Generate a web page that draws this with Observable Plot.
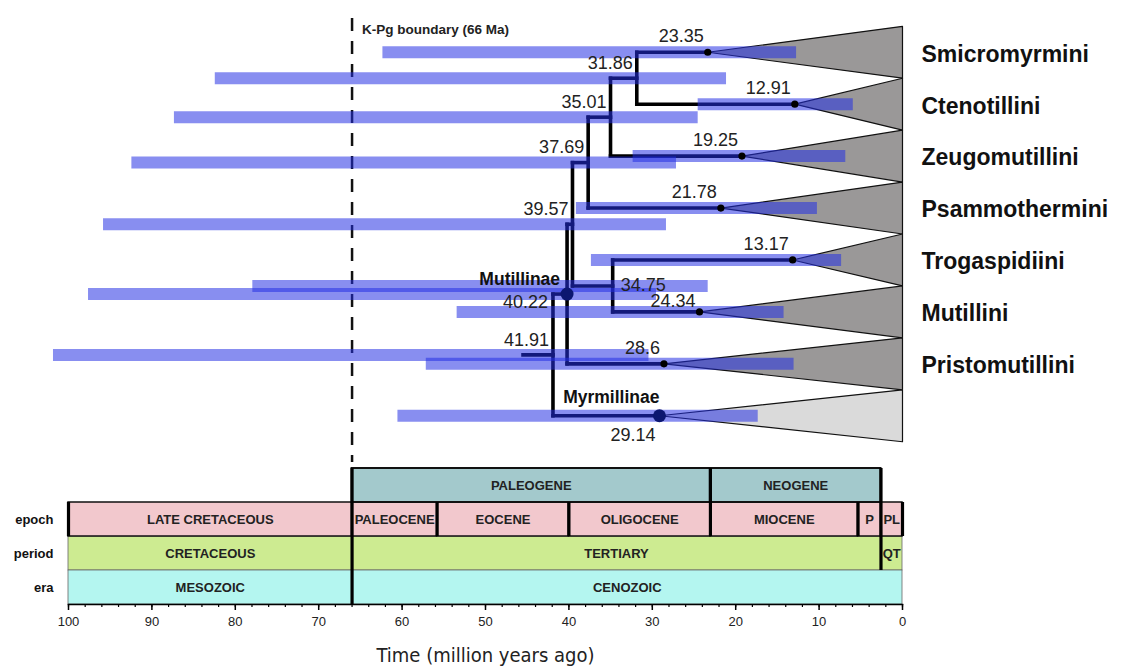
<!DOCTYPE html>
<html><head><meta charset="utf-8">
<script src="https://cdn.jsdelivr.net/npm/d3@7"></script>
<script src="https://cdn.jsdelivr.net/npm/@observablehq/plot@0.6"></script>
<style>
body{margin:0;background:#fff;}
#chart svg{display:block;}
</style></head><body><div id="chart"></div>
<script>
// ---------- tree data ----------
const tribes = ["Smicromyrmini","Ctenotillini","Zeugomutillini","Psammothermini","Trogaspidiini","Mutillini","Pristomutillini","Myrmillinae"];
const tipAges = [23.35, 12.91, 19.25, 21.78, 13.17, 24.34, 28.6, 29.14];
const tipHpdOld = [62.3, 24.5, 32.3, 39.1, 37.3, 53.4, 57.1, 60.5];
const tipHpdYoung = [12.7, 5.9, 6.8, 10.2, 7.3, 14.2, 13.0, 17.3];
const tribeLabels = ["Smicromyrmini","Ctenotillini","Zeugomutillini","Psammothermini","Trogaspidiini","Mutillini","Pristomutillini"];

const nodeIds = ["n3186","n3501","n3769","n3475","n3957","n4022","n4191"];
const nodeAges = [31.86, 35.01, 37.69, 34.75, 39.57, 40.22, 41.91];
const nodeChildren = [["Smicromyrmini","Ctenotillini"],["n3186","Zeugomutillini"],["n3501","Psammothermini"],["Trogaspidiini","Mutillini"],["n3769","n3475"],["n3957","Pristomutillini"],["n4022","Myrmillinae"]];
const nodeHpdOld = [82.4, 87.3, 92.4, 77.9, 95.8, 97.6, 101.8];
const nodeHpdYoung = [21.1, 24.5, 27.1, 23.3, 28.3, 29.5, 30.4];
const rootStemAge = 45.5;
const subfamilies = ["Mutillinae","Myrmillinae"];
const subfamilyNodes = ["n4022","Myrmillinae"];
const kpgAge = 66;

// ---------- geologic time scale data ----------
const scaleRows = ["system","epoch","period","era"];
const unitNames = ["PALEOGENE","NEOGENE","LATE CRETACEOUS","PALEOCENE","EOCENE","OLIGOCENE","MIOCENE","P","PL","CRETACEOUS","TERTIARY","QT","MESOZOIC","CENOZOIC"];
const unitRows  = ["system","system","epoch","epoch","epoch","epoch","epoch","epoch","epoch","period","period","period","era","era"];
const unitStart = [66, 23.03, 100, 66, 55.8, 40, 23.03, 5.33, 2.58, 100, 66, 2.58, 100, 66];
const unitEnd   = [23.03, 2.58, 66, 55.8, 40, 23.03, 5.33, 2.58, 0, 66, 2.58, 0, 66, 0];
const boundaryAges = [100, 66, 55.8, 40, 23.03, 5.33, 2.58, 0, 66, 66, 66, 23.03, 2.58, 2.58];
const boundaryRows = ["epoch","epoch","epoch","epoch","epoch","epoch","epoch","epoch","system","period","era","system","system","period"];
const majorTicks = d3.range(0, 101, 10);
const minorTicks = d3.range(0, 101, 2);

// ---------- derived tables ----------
const rowOf = new Map(tribes.map((t, i) => [t, i]));
const ageOf = new Map(tribes.map((t, i) => [t, tipAges[i]]));
nodeIds.forEach((id, i) => {
  const [a, b] = nodeChildren[i];
  rowOf.set(id, (rowOf.get(a) + rowOf.get(b)) / 2);
  ageOf.set(id, nodeAges[i]);
});
const branches = [];
nodeIds.forEach((id, i) => {
  const t = nodeAges[i];
  const [a, b] = nodeChildren[i];
  branches.push({x1: t, x2: t, y1: rowOf.get(a), y2: rowOf.get(b)});
  for (const c of [a, b]) branches.push({x1: t, x2: ageOf.get(c), y1: rowOf.get(c), y2: rowOf.get(c)});
});
const rootId = nodeIds[nodeIds.length - 1];
branches.push({x1: rootStemAge, x2: ageOf.get(rootId), y1: rowOf.get(rootId), y2: rowOf.get(rootId)});

const tips = tribes.map((t, i) => ({id: t, age: tipAges[i], row: i, old: tipHpdOld[i], young: tipHpdYoung[i]}));
const nodes = nodeIds.map((id, i) => ({id, age: nodeAges[i], row: rowOf.get(id), old: nodeHpdOld[i], young: nodeHpdYoung[i]}));
const hpd = [...tips, ...nodes];

const triPts = [];
tips.forEach(d => {
  triPts.push({z: d.id, x: d.age, y: d.row}, {z: d.id, x: 0, y: d.row - 0.5}, {z: d.id, x: 0, y: d.row + 0.5}, {z: d.id, x: d.age, y: d.row});
});
const subs = subfamilies.map((s, i) => ({name: s, age: ageOf.get(subfamilyNodes[i]), row: rowOf.get(subfamilyNodes[i])}));
const units = unitNames.map((n, i) => ({name: n, row: unitRows[i], start: unitStart[i], end: unitEnd[i]}));
const bounds = boundaryAges.map((a, i) => ({age: a, row: boundaryRows[i]}));

const FONT = "'Liberation Sans', Arial, Helvetica, sans-serif";
const barColor = "rgb(36,46,227)";
const W = 1122, ML = 68, MR = 220;
const upperTips = ["Smicromyrmini","Ctenotillini","Zeugomutillini","Psammothermini","Trogaspidiini","Pristomutillini"];

// ---------- tree plot ----------
const tree = Plot.plot({
  width: W, height: 462,
  marginLeft: ML, marginRight: MR, marginTop: 18, marginBottom: 0,
  style: {fontFamily: FONT, background: "#fff", color: "#111"},
  x: {domain: [100, 0], axis: null},
  y: {domain: [-0.65, 7.9], reverse: true, axis: null},
  marks: [
    Plot.ruleX([kpgAge], {stroke: "#111", strokeWidth: 2.5, strokeDasharray: "13,10"}),
    Plot.text(["K-Pg boundary (66 Ma)"], {x: () => kpgAge, frameAnchor: "top", dx: 10, dy: 6, textAnchor: "start", fontSize: 13.5, fontWeight: "bold", fill: "#222"}),
    Plot.line(triPts.filter(d => d.z !== "Myrmillinae"), {x: "x", y: "y", z: "z", fill: "#9a9898", stroke: "#111", strokeWidth: 1.2, curve: "linear"}),
    Plot.line(triPts.filter(d => d.z === "Myrmillinae"), {x: "x", y: "y", z: "z", fill: "#dadada", stroke: "#111", strokeWidth: 1.2, curve: "linear"}),
    Plot.link(branches, {x1: "x1", y1: "y1", x2: "x2", y2: "y2", stroke: "#000", strokeWidth: 3.6, strokeLinecap: "square"}),
    Plot.ruleY(hpd, {y: "row", x1: "old", x2: "young", stroke: barColor, strokeOpacity: 0.54, strokeWidth: 12}),
    Plot.dot(tips.filter(d => d.id !== "Myrmillinae"), {x: "age", y: "row", r: 3.6, fill: "#000", stroke: "none"}),
    Plot.dot(subs, {x: "age", y: "row", r: 6.5, fill: "#0c1770", stroke: "none"}),
    // tip age labels
    Plot.text(tips.filter(d => upperTips.includes(d.id)), {x: "age", y: "row", text: d => String(d.age), textAnchor: "end", dx: -4, dy: -16, fontSize: 18, fill: "#222"}),
    Plot.text(tips.filter(d => d.id === "Mutillini"), {x: "age", y: "row", text: d => String(d.age), textAnchor: "end", dx: -4, dy: -11, fontSize: 18, fill: "#222"}),
    Plot.text(tips.filter(d => d.id === "Myrmillinae"), {x: "age", y: "row", text: d => String(d.age), textAnchor: "end", dx: -4, dy: 19, fontSize: 18, fill: "#222"}),
    // internal node labels
    Plot.text(nodes.filter(d => ["n3186","n3501","n3769","n3957"].includes(d.id)), {x: "age", y: "row", text: d => String(d.age), textAnchor: "end", dx: -4, dy: -15, fontSize: 18, fill: "#222"}),
    Plot.text(nodes.filter(d => d.id === "n3475"), {x: "age", y: "row", text: d => String(d.age), textAnchor: "start", dx: 8, dy: -1, fontSize: 18, fill: "#222"}),
    Plot.text(nodes.filter(d => d.id === "n4022"), {x: "age", y: "row", text: d => String(d.age), textAnchor: "end", dx: -19, dy: 8, fontSize: 18, fill: "#222"}),
    Plot.text(nodes.filter(d => d.id === "n4191"), {x: "age", y: "row", text: d => String(d.age), textAnchor: "end", dx: -4, dy: -15, fontSize: 18, fill: "#222"}),
    // subfamily labels
    Plot.text(subs.filter(d => d.name === "Mutillinae"), {x: "age", y: "row", text: "name", textAnchor: "end", dx: -7, dy: -15, fontSize: 17.5, fontWeight: "bold", fill: "#111"}),
    Plot.text(subs.filter(d => d.name === "Myrmillinae"), {x: "age", y: "row", text: "name", textAnchor: "end", dx: 0, dy: -18, fontSize: 17.5, fontWeight: "bold", fill: "#111"}),
    // tribe labels
    Plot.text(tribeLabels, {x: () => 0, y: d => rowOf.get(d), text: d => d, textAnchor: "start", dx: 19, dy: 2, fontSize: 23, fontWeight: "bold", fill: "#111"})
  ]
});

// ---------- time scale plot ----------
const fills = {system: "#a3c9cc", epoch: "#f2c8cd", period: "#cdeb91", era: "#b4f6f0"};
const scale = Plot.plot({
  width: W, height: 209,
  marginLeft: ML, marginRight: MR, marginTop: 6, marginBottom: 67,
  style: {fontFamily: FONT, background: "#fff", color: "#111"},
  x: {domain: [100, 0]},
  y: {type: "band", domain: scaleRows, padding: 0},
  marks: [
    Plot.barX(units.filter(d => d.row === "period" || d.row === "era"), {x1: "start", x2: "end", y: "row", fill: d => fills[d.row], stroke: "#666", strokeWidth: 0.8}),
    Plot.barX(units.filter(d => d.row === "epoch"), {x1: "start", x2: "end", y: "row", fill: d => fills[d.row], stroke: "#111", strokeWidth: 1.5}),
    Plot.barX(units.filter(d => d.row === "system"), {x1: "start", x2: "end", y: "row", fill: d => fills[d.row], stroke: "#111", strokeWidth: 2}),
    Plot.tickX(bounds, {x: "age", y: "row", stroke: "#000", strokeWidth: 3.2}),
    Plot.text(units, {x: d => (d.start + d.end) / 2, y: "row", text: "name", fontSize: 13, fontWeight: "bold", fill: "#222"}),
    Plot.axisY({tickSize: 0, tickPadding: 15, fontSize: 13, fontWeight: "bold", tickFormat: d => d === "system" ? "" : d, label: null}),
    Plot.frame({anchor: "bottom", stroke: "#000", strokeWidth: 1.5}),
    Plot.axisX({ticks: majorTicks, tickSize: 6, tickPadding: 6, fontSize: 13, label: null, stroke: "#000", strokeWidth: 1.5, fill: "#222"}),
    Plot.axisX({ticks: minorTicks, tickSize: 3, text: null, label: null, stroke: "#000", strokeWidth: 1.2}),
    Plot.text(["Time (million years ago)"], {frameAnchor: "bottom", dy: 57, fontSize: 20, fill: "#222", fontFamily: "'Liberation Sans Narrow', 'DejaVu Sans Condensed', Arial, sans-serif"})
  ]
});

const root = document.getElementById("chart");
root.appendChild(tree);
root.appendChild(scale);
</script>
</body></html>
